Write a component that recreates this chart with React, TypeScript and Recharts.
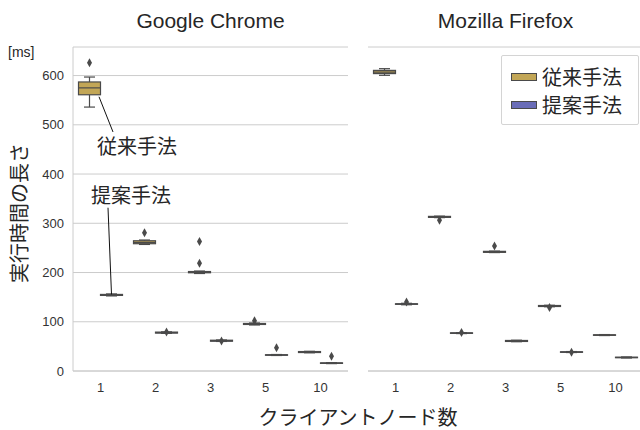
import { Bar, CartesianGrid, ComposedChart, Legend, XAxis, YAxis } from 'recharts'

const CATEGORIES = ['1', '2', '3', '5', '10']
const SERIES_NAMES = ['従来手法', '提案手法']
const Y_TICKS = [0, 100, 200, 300, 400, 500, 600]
const Y_MAX = 658

// box stats per category: [lower whisker, q1, median, q3, upper whisker]
const CHROME_CONV = [
  [536, 561, 575, 587, 597], [257, 258.5, 261, 264.5, 266], [198, 199.5, 200.5, 202, 203],
  [93.5, 94.5, 95.5, 96.5, 97.5], [37, 37.5, 38.5, 39.5, 40],
]
const CHROME_CONV_OUT = [[626], [281], [219, 263], [102], []]
const CHROME_PROP = [
  [152.5, 153.5, 154.5, 155.5, 156.5], [76.5, 77, 78, 79, 79.5], [60, 60.5, 61.5, 62.5, 63],
  [31.5, 32, 32.5, 33, 33.5], [15, 15.5, 16, 16.5, 17],
]
const CHROME_PROP_OUT = [[], [79], [61], [47], [30]]

const FIREFOX_CONV = [
  [600.5, 604, 607, 610.5, 614], [311.5, 312, 313, 314, 314.5], [240.5, 241, 242, 243, 243.5],
  [130.5, 131, 132, 133, 133.5], [72, 72.5, 73, 73.5, 74],
]
const FIREFOX_CONV_OUT = [[], [306], [254], [129], []]
const FIREFOX_PROP = [
  [134.5, 135.5, 136, 136.5, 137.5], [76, 76.5, 77, 77.5, 78], [59.5, 60, 61, 62, 62.5],
  [37.5, 38, 38.5, 39, 39.5], [26.5, 27, 27.5, 28, 28.5],
]
const FIREFOX_PROP_OUT = [[140], [78], [], [38], []]

// callouts on the Chrome panel: text is centred at `value` on the y scale
const CHROME_NOTES = [
  { series: 'conv', cat: '1', text: '従来手法', value: 457 },
  { series: 'prop', cat: '1', text: '提案手法', value: 358 },
]

const COLORS = { conv: '#c2a656', prop: '#6a6db8' }
const EDGE = '#4a4a4a'
const GRID = '#cccccc'
const TEXT = '#262626'
const LATIN = '"Liberation Sans", Arial, sans-serif'
const CJK = '"Noto Sans CJK JP", "Noto Sans", sans-serif'

function buildRows(conv: number[][], convOut: number[][], prop: number[][], propOut: number[][]) {
  return CATEGORIES.map((cat, i) => ({
    cat,
    conv: [conv[i][0], conv[i][4]],
    prop: [prop[i][0], prop[i][4]],
    convStats: conv[i],
    propStats: prop[i],
    convOut: convOut[i],
    propOut: propOut[i],
  }))
}

const chromeRows = buildRows(CHROME_CONV, CHROME_CONV_OUT, CHROME_PROP, CHROME_PROP_OUT)
const firefoxRows = buildRows(FIREFOX_CONV, FIREFOX_CONV_OUT, FIREFOX_PROP, FIREFOX_PROP_OUT)

function makeBoxShape(series: 'conv' | 'prop', notes: typeof CHROME_NOTES) {
  return (props: any) => {
    const { x, y, width, height, payload, fill } = props
    const [lo, q1, med, q3, hi] = payload[series + 'Stats']
    const outs: number[] = payload[series + 'Out']
    // the bar spans lo..hi, so its pixel height gives the y scale
    const k = height / (hi - lo)
    const py = (v: number) => y + (hi - v) * k
    const cx = x + width / 2
    const cap = width / 4
    const note = notes.find((n) => n.series === series && n.cat === payload.cat)
    return (
      <g>
        <line x1={cx} x2={cx} y1={py(hi)} y2={py(q3)} stroke={EDGE} strokeWidth={1.2} />
        <line x1={cx} x2={cx} y1={py(q1)} y2={py(lo)} stroke={EDGE} strokeWidth={1.2} />
        <line x1={cx - cap} x2={cx + cap} y1={py(hi)} y2={py(hi)} stroke={EDGE} strokeWidth={1.2} />
        <line x1={cx - cap} x2={cx + cap} y1={py(lo)} y2={py(lo)} stroke={EDGE} strokeWidth={1.2} />
        <rect x={x} y={py(q3)} width={width} height={Math.max(py(q1) - py(q3), 0.5)}
              fill={fill} stroke={EDGE} strokeWidth={1.2} />
        <line x1={x} x2={x + width} y1={py(med)} y2={py(med)} stroke={EDGE} strokeWidth={1.2} />
        {outs.map((o, i) => (
          <polygon key={i} fill={EDGE}
                   points={`${cx},${py(o) - 4.5} ${cx + 2.5},${py(o)} ${cx},${py(o) + 4.5} ${cx - 2.5},${py(o)}`} />
        ))}
        {note && series === 'conv' && (
          <g>
            <line x1={x + width - 1.5} y1={py(q1) + 2} x2={x + width + 12.5} y2={py(note.value) - 14}
                  stroke="#111" strokeWidth={1} />
            <text x={x + 18.5} y={py(note.value)} dominantBaseline="central" fontSize={20}
                  fontFamily={CJK} fill={TEXT}>{note.text}</text>
          </g>
        )}
        {note && series === 'prop' && (
          <g>
            <line x1={cx - 3.5} y1={py(note.value) + 13} x2={cx} y2={py(q3)} stroke="#111" strokeWidth={1} />
            <text x={x - 9.5} y={py(note.value)} dominantBaseline="central" fontSize={20}
                  fontFamily={CJK} fill={TEXT}>{note.text}</text>
          </g>
        )}
      </g>
    )
  }
}

function renderLegend(props: any) {
  const items = props.payload ?? []
  return (
    <div style={{
      width: 138, height: 70, boxSizing: 'border-box', border: '1px solid #d4d4d4',
      borderRadius: 2, background: '#fff', position: 'relative',
    }}>
      {items.map((e: any, i: number) => (
        <div key={i} style={{ position: 'absolute', left: 9, top: 10 + i * 28, display: 'flex', alignItems: 'center' }}>
          <div style={{ width: 24, height: 6, background: e.color, border: `1px solid ${EDGE}` }} />
          <span style={{ marginLeft: 5, fontSize: 20, lineHeight: '22px', fontFamily: CJK, color: TEXT }}>
            {e.value}
          </span>
        </div>
      ))}
    </div>
  )
}

function Panel({ rows, notes, width, margin, yWidth, showTicks, legend }: any) {
  const tickStyle = { fontSize: 13, fill: '#333', fontFamily: LATIN }
  return (
    <ComposedChart width={width} height={430} data={rows} margin={margin}
                   barCategoryGap="10%" barGap={0}>
      <CartesianGrid vertical={false} stroke={GRID} strokeWidth={1} />
      <XAxis dataKey="cat" tickLine={false} axisLine={{ stroke: GRID }} tick={tickStyle}
             tickSize={0} tickMargin={12} height={30} interval={0} />
      <YAxis domain={[0, Y_MAX]} ticks={Y_TICKS} width={yWidth} tickLine={false} axisLine={{ stroke: GRID }}
             tick={showTicks ? tickStyle : false} tickSize={0} tickMargin={9} />
      <Bar dataKey="conv" name={SERIES_NAMES[0]} fill={COLORS.conv} isAnimationActive={false}
           shape={makeBoxShape('conv', notes)} />
      <Bar dataKey="prop" name={SERIES_NAMES[1]} fill={COLORS.prop} isAnimationActive={false}
           shape={makeBoxShape('prop', notes)} />
      {legend && (
        <Legend layout="horizontal" verticalAlign="middle" align="center" content={renderLegend}
                wrapperStyle={{ top: 55, left: 161, width: 138, height: 70 }} />
      )}
    </ComposedChart>
  )
}

export default function App() {
  return (
    <div style={{
      position: 'absolute', left: 0, top: 0, width: 640, height: 430, overflow: 'hidden',
      background: '#fff', fontFamily: LATIN,
    }}>
      <div style={{ position: 'absolute', left: 0, top: 0 }}>
        <Panel rows={chromeRows} notes={CHROME_NOTES} width={360} yWidth={50} showTicks
               margin={{ top: 47, right: 12, bottom: 29, left: 23 }} />
      </div>
      <div style={{ position: 'absolute', left: 340, top: 0 }}>
        <Panel rows={firefoxRows} notes={[]} width={310} yWidth={0} showTicks={false} legend
               margin={{ top: 47, right: 7, bottom: 29, left: 28 }} />
      </div>
      <svg width={640} height={430} style={{ position: 'absolute', left: 0, top: 0, pointerEvents: 'none' }}>
        <text x={210.5} y={20} textAnchor="middle" dominantBaseline="central" fontSize={21}
              fontFamily={LATIN} fill={TEXT}>Google Chrome</text>
        <text x={505.5} y={20} textAnchor="middle" dominantBaseline="central" fontSize={21}
              fontFamily={LATIN} fill={TEXT}>Mozilla Firefox</text>
        <text x={8} y={52} dominantBaseline="central" fontSize={14} fontFamily={LATIN} fill={TEXT}>[ms]</text>
        <text transform="translate(18 213) rotate(-90)" textAnchor="middle" dominantBaseline="central"
              fontSize={20} fontFamily={CJK} fill={TEXT}>実行時間の長さ</text>
        <text x={358} y={416} textAnchor="middle" dominantBaseline="central" fontSize={20}
              fontFamily={CJK} fill={TEXT}>クライアントノード数</text>
      </svg>
    </div>
  )
}
